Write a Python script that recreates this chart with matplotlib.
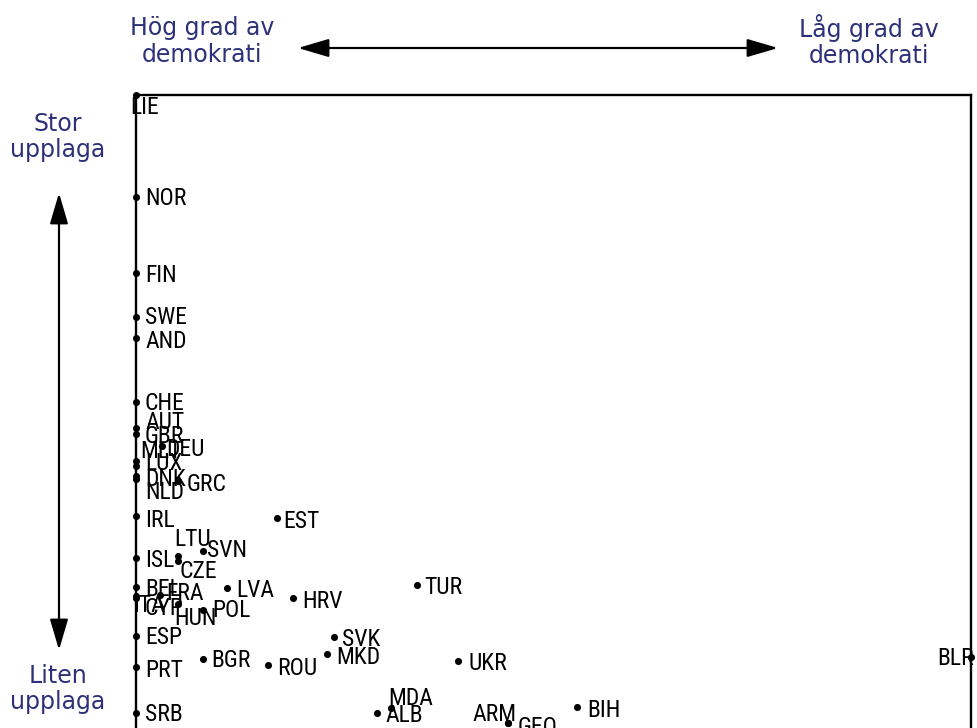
import matplotlib
matplotlib.use("Agg")
import matplotlib.pyplot as plt
from matplotlib.patches import FancyArrowPatch
from matplotlib import font_manager

# ---------------- data ----------------
countries = ["LIE", "NOR", "FIN", "SWE", "AND", "CHE", "AUT", "GBR", "MLT", "DEU",
             "LUX", "DNK", "NLD", "GRC", "IRL", "EST", "LTU", "SVN", "ISL", "CZE",
             "BEL", "ITA", "CYP", "FRA", "LVA", "HUN", "POL", "HRV", "TUR", "ESP",
             "SVK", "MKD", "PRT", "BGR", "ROU", "UKR", "BLR", "SRB", "MDA", "ALB",
             "ARM", "GEO", "BIH"]
# democracy (0 = highest degree of democracy, 100 = lowest)
democracy = [0, 0, 0, 0, 0, 0, 0, 0, 0, 3.1,
             0, 0, 0, 5.0, 0, 16.9, 5.0, 8.0, 0, 5.0,
             0, 0, 0, 2.9, 10.9, 5.0, 8.0, 18.8, 33.7, 0,
             23.7, 22.9, 0, 8.0, 15.8, 38.6, 100, 0, 30.5, 28.9,
             44.6, 44.6, 52.8]
# newspaper circulation (relative, 100 = largest)
circulation = [100, 84.2, 72.4, 65.6, 62.3, 52.4, 48.4, 47.4, 43.3, 45.6,
               42.5, 40.9, 40.5, 40.2, 34.7, 34.4, 28.5, 29.3, 28.2, 27.8,
               23.7, 22.3, 22.0, 22.5, 23.6, 21.1, 20.2, 22.0, 24.0, 16.1,
               16.0, 13.3, 11.3, 12.6, 11.6, 12.2, 12.9, 4.2, 5.0, 4.2,
               2.6, 2.6, 5.1]

# label placement (pixels: right, down) -- styling, not data
label_offsets = {
    "LIE": (-6, 11), "NOR": (9, 0), "FIN": (9, 1), "SWE": (9, -1), "AND": (10, 1),
    "CHE": (9, 0), "AUT": (9, -7), "GBR": (9, 0), "MLT": (4, -11), "DEU": (4, 2),
    "LUX": (9, -4), "DNK": (9, 1), "NLD": (9, 12), "GRC": (9, 2), "IRL": (9, 2),
    "EST": (6, 1), "LTU": (-3, -19), "SVN": (4, -2), "ISL": (9, 0), "CZE": (2, 9),
    "BEL": (9, 0), "ITA": (-3, 7), "CYP": (9, 8), "FRA": (6, -3), "LVA": (9, 1),
    "HUN": (-3, 13), "POL": (9, -1), "HRV": (9, 1), "TUR": (7, 0), "ESP": (9, -1),
    "SVK": (8, 1), "MKD": (9, 1), "PRT": (9, 1), "BGR": (8, 0), "ROU": (9, 1),
    "UKR": (10, 0), "BLR": (3, 0), "SRB": (9, 0), "MDA": (-2, -11), "ALB": (8, 1),
    "ARM": (-36, -11), "GEO": (9, 2), "BIH": (10, 1),
}
right_aligned = {"BLR"}

title_left = "Hög grad av\ndemokrati"
title_right = "Låg grad av\ndemokrati"
label_top = "Stor\nupplaga"
label_bottom = "Liten\nupplaga"

# ---------------- fonts ----------------
ttf = font_manager.fontManager.ttflist
names = {f.name for f in ttf}
label_kw = None
for cand in ["Liberation Sans Narrow", "Arial Narrow", "Roboto Condensed",
             "Open Sans Condensed"]:
    if cand in names:
        label_kw = dict(family=[cand, "DejaVu Sans"], fontsize=17)
        break
if label_kw is None:
    cond = [f for f in ttf if f.name in ("Liberation Sans", "Roboto", "Open Sans", "Inter")
            and str(f.stretch) in ("condensed", "semi-condensed", "75", "87")]
    if cond:
        label_kw = dict(family=[cond[0].name], fontstretch=cond[0].stretch, fontsize=17)
    else:
        label_kw = dict(family=["Liberation Sans", "DejaVu Sans"], fontsize=14.2)

# ---------------- figure ----------------
W, H = 978, 728
fig = plt.figure(figsize=(W / 100, H / 100), dpi=100)
fig.patch.set_facecolor("white")

ax_left, ax_right, ax_top, ax_bottom = 136, 971, 95, 740
ax = fig.add_axes([ax_left / W, (H - ax_bottom) / H,
                   (ax_right - ax_left) / W, (ax_bottom - ax_top) / H])
ax.set_xlim(0, 100)
ax.set_ylim(0, 100)
ax.set_xticks([])
ax.set_yticks([])
for side in ["left", "top", "right"]:
    ax.spines[side].set_linewidth(1.7)
    ax.spines[side].set_color("black")
ax.spines["bottom"].set_visible(False)
ax.patch.set_alpha(0)

ax.scatter(democracy, circulation, s=26, color="black", zorder=3, clip_on=False,
           linewidths=0)

cap_half = 0.5 * 0.716 * label_kw["fontsize"] * 100 / 72
for c, xv, yv in zip(countries, democracy, circulation):
    dx, dy = label_offsets[c]
    ha = "right" if c in right_aligned else "left"
    ax.annotate(c, (xv, yv), xytext=(dx, -dy - cap_half), textcoords="offset pixels",
                ha=ha, va="baseline", color="black", annotation_clip=False,
                zorder=4, **label_kw)

navy = "#2c3179"
tkw = dict(fontsize=17, color=navy, ha="center", va="center",
           family="DejaVu Sans", linespacing=1.12)
fig.text(202 / W, 1 - 41.5 / H, title_left, **tkw)
fig.text(869 / W, 1 - 41 / H, title_right, **tkw)
fig.text(58 / W, 1 - 137 / H, label_top, **tkw)
fig.text(58 / W, 1 - 689 / H, label_bottom, **tkw)


def fig_arrow(x0, y0, x1, y1):
    a = FancyArrowPatch((x0 / W, 1 - y0 / H), (x1 / W, 1 - y1 / H),
                        transform=fig.transFigure,
                        arrowstyle="<|-|>,head_length=19,head_width=5.6",
                        mutation_scale=1, color="black", linewidth=1.6,
                        shrinkA=0, shrinkB=0)
    fig.add_artist(a)


fig_arrow(298, 48, 778, 48)
fig_arrow(59, 193, 59, 650)

fig.savefig("out.png", dpi=100)
